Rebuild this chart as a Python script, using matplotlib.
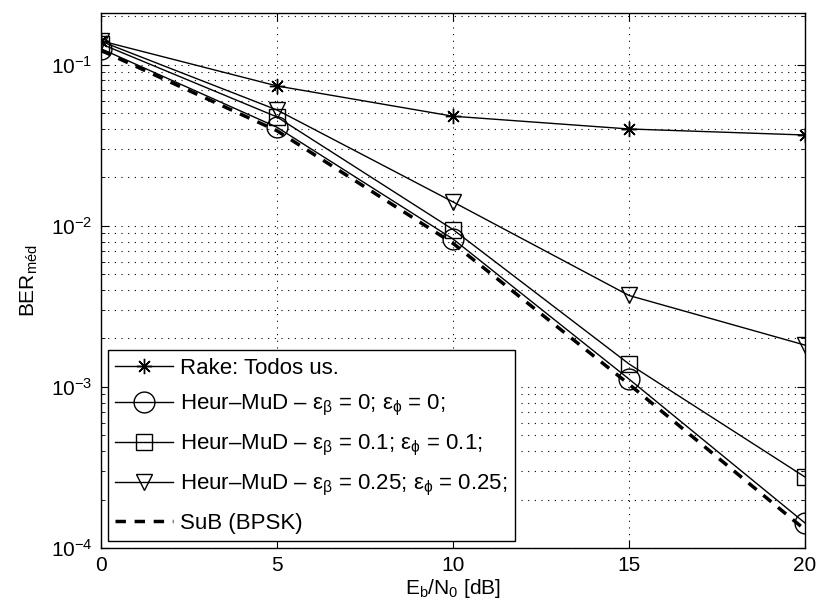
import numpy as np
import matplotlib
matplotlib.use("Agg")
from matplotlib import pyplot as plt
from matplotlib.ticker import LogLocator, NullFormatter

plt.rcParams['font.family'] = ['Liberation Sans', 'DejaVu Sans']
plt.rcParams['mathtext.fontset'] = 'custom'
plt.rcParams['mathtext.rm'] = 'Liberation Sans'
plt.rcParams['mathtext.it'] = 'Liberation Sans'

ebn0 = [0, 5, 10, 15, 20]
ber_rake = [0.141, 0.074, 0.048, 0.040, 0.0367]
ber_heur_0 = [0.126, 0.041, 0.0083, 0.00112, 0.000143]
ber_heur_01 = [0.135, 0.0475, 0.0095, 0.00139, 0.000276]
ber_heur_025 = [0.140, 0.0525, 0.0141, 0.0037, 0.00182]
ber_bpsk = [0.123, 0.039, 0.0078, 0.00104, 0.000130]

labels = ['Rake: Todos us.',
          'Heur\u2013MuD \u2013 ε$_\\mathregular{β}$ = 0; ε$_\\mathregular{ϕ}$ = 0;',
          'Heur\u2013MuD \u2013 ε$_\\mathregular{β}$ = 0.1; ε$_\\mathregular{ϕ}$ = 0.1;',
          'Heur\u2013MuD \u2013 ε$_\\mathregular{β}$ = 0.25; ε$_\\mathregular{ϕ}$ = 0.25;',
          'SuB (BPSK)']

fig = plt.figure(figsize=(8.17, 6.10), dpi=100)
ax = fig.add_axes([0.1236, 0.1016, 0.8617, 0.8771])

ax.semilogy(ebn0, ber_rake, 'k-', marker=(8, 2, 0), ms=11, mew=1.0, lw=1.0, label=labels[0])
ax.semilogy(ebn0, ber_heur_0, 'k-', marker='o', ms=15, mfc='none', mew=1.0, lw=1.0, label=labels[1])
ax.semilogy(ebn0, ber_heur_01, 'k-', marker='s', ms=11, mfc='none', mew=1.0, lw=1.0, label=labels[2])
ax.semilogy(ebn0, ber_heur_025, 'k-', marker='v', ms=12, mfc='none', mew=1.0, lw=1.0, label=labels[3])
ax.semilogy(ebn0, ber_bpsk, 'k--', lw=2.5, dashes=(3, 2.5), label=labels[4])

ax.set_xlim(0, 20)
ax.set_ylim(1e-4, 0.21)
ax.set_xticks([0, 5, 10, 15, 20])
ax.yaxis.set_major_locator(LogLocator(base=10, numticks=10))
ax.yaxis.set_minor_locator(LogLocator(base=10, subs=np.arange(2, 10), numticks=10))
ax.yaxis.set_minor_formatter(NullFormatter())
ax.grid(True, which='major', linestyle=(0, (1, 5)), color='k', lw=0.8)
ax.grid(True, which='minor', axis='y', linestyle=(0, (1, 5)), color='k', lw=0.8)
ax.tick_params(which='both', direction='in', top=True, right=True, labelsize=15)
ax.tick_params(which='major', length=6, pad=6)
ax.tick_params(which='minor', length=3)
for s in ax.spines.values():
    s.set_linewidth(1.0)

ax.set_xlabel(r'E$_\mathregular{b}$/N$_\mathregular{0}$ [dB]', fontsize=15, labelpad=1)
ax.set_ylabel(r'BER$_\mathregular{méd}$', fontsize=15, labelpad=8)

leg = ax.legend(loc='lower left', fontsize=16, fancybox=False, edgecolor='k',
                framealpha=1, handlelength=2.6, handletextpad=0.3, borderpad=0.35,
                borderaxespad=0.3, labelspacing=0.66)
leg.get_frame().set_linewidth(1.0)

fig.savefig('out.png', dpi=100)
